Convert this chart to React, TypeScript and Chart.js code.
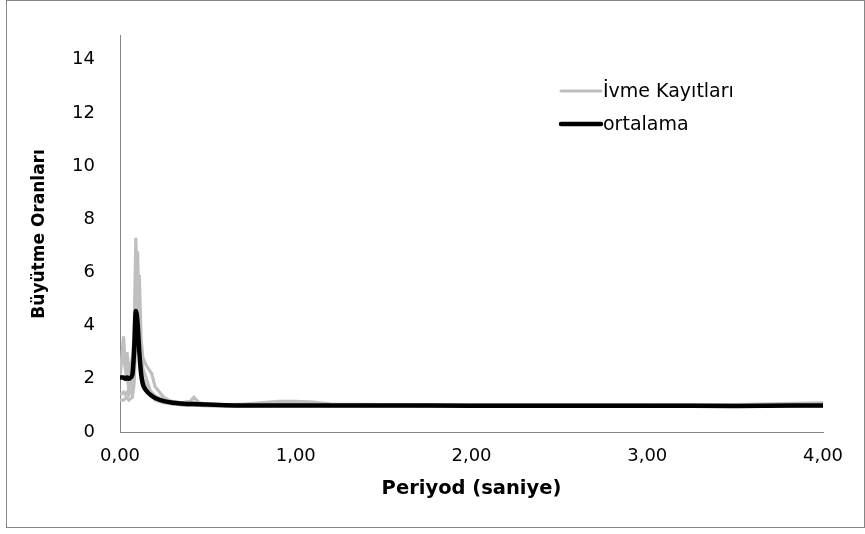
import React, { useEffect, useRef } from "react";
import { Chart, registerables } from "chart.js";

Chart.register(...registerables);

const periods = [0, 0.02, 0.03, 0.04, 0.05, 0.06, 0.07, 0.08, 0.09, 0.1, 0.11, 0.12, 0.13, 0.15, 0.18, 0.2, 0.25, 0.3, 0.35, 0.4, 0.42, 0.45, 0.5, 0.6, 0.7, 0.8, 0.9, 1.0, 1.1, 1.2, 1.5, 2.0, 2.5, 3.0, 3.5, 4.0];

const record1 = [2.6, 2.9, 2.4, 3.0, 2.2, 2.5, 2.8, 3.5, 7.3, 5.0, 3.0, 2.2, 1.9, 1.6, 1.4, 1.3, 1.25, 1.15, 1.1, 1.15, 1.3, 1.1, 1.05, 1.02, 1.05, 1.1, 1.15, 1.15, 1.12, 1.05, 1.03, 1.02, 1.02, 1.02, 1.03, 1.1];
const record2 = [1.2, 1.2, 1.25, 1.3, 1.2, 1.25, 1.3, 1.8, 3.5, 5.5, 5.9, 3.5, 2.8, 2.5, 2.2, 1.7, 1.3, 1.1, 1.02, 1.0, 1.0, 1.0, 0.98, 0.98, 0.98, 0.99, 1.0, 1.0, 1.0, 0.99, 0.98, 0.97, 0.97, 0.97, 0.97, 0.98];
const record3 = [2.0, 3.6, 2.5, 2.1, 1.6, 1.8, 2.0, 2.5, 4.5, 6.8, 4.0, 2.5, 2.0, 1.7, 1.5, 1.35, 1.2, 1.1, 1.06, 1.05, 1.1, 1.05, 1.03, 1.02, 1.03, 1.05, 1.08, 1.08, 1.05, 1.02, 1.0, 1.0, 1.0, 1.0, 1.0, 1.05];
const record4 = [1.4, 1.5, 1.4, 1.5, 1.4, 1.5, 1.6, 2.0, 4.0, 4.8, 4.5, 3.0, 2.4, 2.0, 1.4, 1.2, 1.1, 1.05, 1.02, 1.02, 1.02, 1.02, 1.0, 0.99, 0.99, 0.99, 0.99, 0.99, 0.99, 0.99, 0.99, 0.98, 0.98, 0.98, 0.98, 0.98];
const average = [2.05, 2.05, 2.0, 2.05, 2.0, 2.05, 2.15, 3.0, 4.55, 4.1, 3.0, 2.2, 1.8, 1.55, 1.36, 1.28, 1.16, 1.1, 1.07, 1.05, 1.05, 1.04, 1.03, 1.01, 1.0, 1.0, 1.0, 1.0, 1.0, 1.0, 1.0, 0.99, 0.99, 0.99, 0.98, 1.0];

const recordLabel = "İvme Kayıtları";
const averageLabel = "ortalama";
const xTitle = "Periyod (saniye)";
const yTitle = "Büyütme Oranları";

const GRAY = "#BFBFBF";
const FONT = "'DejaVu Sans', sans-serif";

const toPoints = (ys: number[]) => ys.map((y, i) => ({ x: periods[i], y }));

const legendPlugin = {
  id: "customLegend",
  afterDraw(chart: any) {
    const ctx = chart.ctx;
    ctx.save();
    const items = [
      { label: recordLabel, color: GRAY, width: 3, y: 91 },
      { label: averageLabel, color: "#000", width: 4.5, y: 124 },
    ];
    ctx.font = `19px ${FONT}`;
    ctx.textBaseline = "middle";
    ctx.textAlign = "left";
    for (const it of items) {
      ctx.beginPath();
      ctx.strokeStyle = it.color;
      ctx.lineWidth = it.width;
      ctx.lineCap = "round";
      ctx.moveTo(561, it.y);
      ctx.lineTo(601, it.y);
      ctx.stroke();
      ctx.fillStyle = "#000";
      ctx.fillText(it.label, 603, it.y + 1);
    }
    ctx.restore();
  },
};

export default function App() {
  const ref = useRef<HTMLCanvasElement | null>(null);
  useEffect(() => {
    if (!ref.current) return;
    const grayDs = (data: number[], label: string) => ({
      label,
      data: toPoints(data),
      borderColor: GRAY,
      backgroundColor: GRAY,
      borderWidth: 3.2,
      pointRadius: 0,
      tension: 0,
      order: 1,
    });
    const chart = new Chart(ref.current, {
      type: "line",
      data: {
        datasets: [
          grayDs(record1, recordLabel),
          grayDs(record2, recordLabel + " 2"),
          grayDs(record3, recordLabel + " 3"),
          grayDs(record4, recordLabel + " 4"),
          {
            label: averageLabel,
            data: toPoints(average),
            borderColor: "#000",
            backgroundColor: "#000",
            borderWidth: 4.5,
            pointRadius: 0,
            cubicInterpolationMode: "monotone",
            order: 0,
          },
        ],
      },
      options: {
        animation: false,
        responsive: false,
        maintainAspectRatio: false,
        layout: { padding: { left: 0, right: 42, top: 22, bottom: 0 } },
        plugins: { legend: { display: false }, tooltip: { enabled: false } },
        scales: {
          x: {
            type: "linear",
            min: 0,
            max: 4,
            afterFit: (s: any) => { s.height = 102; },
            grid: { display: false, drawTicks: false },
            border: { display: true, color: "#868686", width: 1 },
            ticks: {
              stepSize: 1,
              padding: 14,
              color: "#000",
              font: { family: FONT, size: 18 },
              maxRotation: 0,
              callback: (v: any) => Number(v).toFixed(2).replace(".", ","),
            },
            title: {
              display: true,
              text: xTitle,
              color: "#000",
              font: { family: FONT, size: 19.5, weight: "bold" },
              padding: { top: 0, bottom: 33 },
            },
          },
          y: {
            type: "linear",
            min: 0,
            max: 14.9,
            afterFit: (s: any) => { s.width = 120; },
            grid: { display: false, drawTicks: false },
            border: { display: true, color: "#868686", width: 1 },
            ticks: {
              stepSize: 2,
              includeBounds: false,
              padding: 25,
              color: "#000",
              font: { family: FONT, size: 18 },
            },
            title: {
              display: true,
              text: yTitle,
              color: "#000",
              font: { family: FONT, size: 17, weight: "bold" },
              padding: { top: 29, bottom: 0 },
            },
          },
        },
      },
      plugins: [legendPlugin],
    } as any);
    return () => chart.destroy();
  }, []);
  return (
    <div style={{ position: "fixed", left: 0, top: 0, width: 865, height: 534, background: "#fff" }}>
      <div style={{ position: "absolute", left: 6, top: 0, width: 857, height: 526, border: "1px solid #868686" }} />
      <canvas ref={ref} width={865} height={534} style={{ position: "absolute", left: 0, top: 0, width: 865, height: 534 }} />
    </div>
  );
}
